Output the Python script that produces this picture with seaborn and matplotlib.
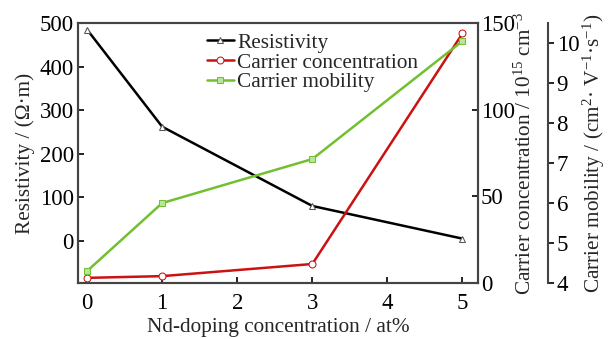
import matplotlib
matplotlib.use("Agg")
import matplotlib.pyplot as plt
import seaborn as sns
import pandas as pd

doping = [0, 1, 3, 5]
resistivity = [485, 262, 80, 5]
carrier_conc = [3, 4, 11, 144]
carrier_mob = [4.3, 6.0, 7.1, 10.05]

sns.set_style("ticks")
plt.rcParams['font.family'] = ['Liberation Serif', 'DejaVu Serif']
plt.rcParams['mathtext.fontset'] = 'custom'
plt.rcParams['mathtext.rm'] = 'Liberation Serif'
plt.rcParams['mathtext.it'] = 'Liberation Serif:italic'

fig = plt.figure(figsize=(6.1, 3.39), dpi=100)
ax = fig.add_axes([0.128, 0.165, 0.656, 0.767])
ax2 = ax.twinx()
ax3 = ax.twinx()
ax3.spines['right'].set_position(('axes', 1.175))

df = pd.DataFrame({'x': doping, 'r': resistivity, 'c': carrier_conc, 'm': carrier_mob})

lw = 1.8
sns.lineplot(data=df, x='x', y='r', ax=ax, color='black', lw=lw, marker='^',
             markersize=5, markerfacecolor='white', markeredgecolor='#555555', label='Resistivity', legend=False)
sns.lineplot(data=df, x='x', y='c', ax=ax2, color='#cc1111', lw=lw, marker='o',
             markersize=5, markerfacecolor='white', markeredgecolor='#cc1111', label='Carrier concentration', legend=False)
sns.lineplot(data=df, x='x', y='m', ax=ax3, color='#72c030', lw=lw, marker='s',
             markersize=5, markerfacecolor='#b9e59a', markeredgecolor='#72c030', label='Carrier mobility', legend=False)

ax.set_xlim(-0.12, 5.21)
ax.set_ylim(-97, 500)
ax2.set_ylim(0, 150)
ax3.set_ylim(4, 10.5)
ax.set_xticks([0, 1, 2, 3, 4, 5])
ax.set_yticks([0, 100, 200, 300, 400, 500])
ax2.set_yticks([0, 50, 100, 150])
ax3.set_yticks([4, 5, 6, 7, 8, 9, 10])

tfs = 16.5
fs = 15.3
ax.set_xlabel('Nd-doping concentration / at%', fontsize=fs, labelpad=3)
ax.set_ylabel('Resistivity / (Ω·m)', fontsize=fs, labelpad=3)
ax2.set_ylabel('Carrier concentration / 10$^{15}$ cm$^{-3}$', fontsize=fs, labelpad=0)
ax3.set_ylabel('Carrier mobility / (cm$^{2}$· V$^{-1}$·s$^{-1}$)', fontsize=fs, labelpad=1)

edge = '#444444'
for a in (ax, ax2, ax3):
    for s in a.spines.values():
        s.set_color(edge)
        s.set_linewidth(1.5)
    a.tick_params(labelsize=tfs, colors='black', width=1.2, length=4, pad=3)
ax.tick_params(direction='in')
ax.tick_params(axis='x', pad=7)
ax2.tick_params(direction='in', pad=2)
ax3.tick_params(direction='out', pad=2)
ax3.spines['top'].set_visible(False)
ax3.spines['left'].set_visible(False)
ax3.spines['bottom'].set_visible(False)

h1, l1 = ax.get_legend_handles_labels()
h2, l2 = ax2.get_legend_handles_labels()
h3, l3 = ax3.get_legend_handles_labels()
leg = ax.legend(h1 + h2 + h3, l1 + l2 + l3, loc='upper left', bbox_to_anchor=(0.30, 0.995),
                frameon=False, fontsize=15.3, handlelength=1.3, handletextpad=0.15,
                labelspacing=0.0, borderaxespad=0)

fig.savefig('out.png', dpi=100)
